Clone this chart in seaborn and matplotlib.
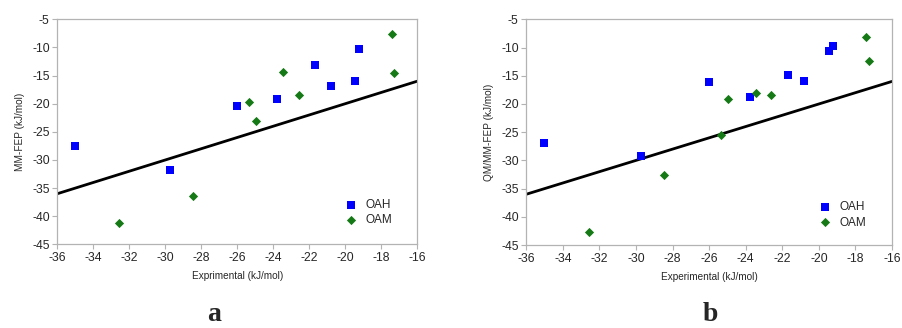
import numpy as np
import pandas as pd
import matplotlib
matplotlib.use("Agg")
import matplotlib.pyplot as plt
import seaborn as sns

# Experimental binding free energies (kJ/mol)
oah_exp = [-35.04, -29.72, -26.02, -23.78, -21.67, -20.81, -19.44, -19.22]
oam_exp = [-32.57, -28.48, -25.35, -24.98, -23.43, -22.57, -17.39, -17.28]

# Panel a: MM-FEP predictions
oah_mm = [-27.58, -31.84, -20.41, -19.10, -13.06, -16.79, -15.96, -10.27]
oam_mm = [-41.27, -36.47, -19.76, -23.07, -14.42, -18.51, -7.61, -14.48]

# Panel b: QM/MM-FEP predictions (OAM listed in its own experimental order)
oah_qm = [-26.98, -29.17, -16.17, -18.77, -14.87, -15.99, -10.61, -9.67]
oam_qm_exp = [-32.55, -28.47, -25.35, -24.99, -23.42, -22.60, -17.42, -17.28]
oam_qm = [-42.76, -32.59, -25.50, -19.06, -18.06, -18.35, -8.07, -12.39]

hosts = ["OAH", "OAM"]
x_ticks = list(range(-36, -15, 2))
y_ticks = list(range(-45, -4, 5))
panel_letters = ["a", "b"]
y_labels = ["MM-FEP (kJ/mol)", "QM/MM-FEP (kJ/mol)"]
x_labels = ["Exprimental (kJ/mol)", "Experimental (kJ/mol)"]

sns.set_theme(style="white")
plt.rcParams["font.family"] = ["Liberation Sans", "DejaVu Sans"]
plt.rcParams["axes.unicode_minus"] = False

def make_frame(ex_h, pr_h, ex_m, pr_m):
    return pd.DataFrame({
        "exp": ex_h + ex_m,
        "pred": pr_h + pr_m,
        "host": [hosts[0]] * len(ex_h) + [hosts[1]] * len(ex_m),
    })

frames = [
    make_frame(oah_exp, oah_mm, oam_exp, oam_mm),
    make_frame(oah_exp, oah_qm, oam_qm_exp, oam_qm),
]

fig = plt.figure(figsize=(9.02, 3.28), dpi=100)
axes = [
    fig.add_axes([0.0635, 0.255, 0.399, 0.686]),
    fig.add_axes([0.5835, 0.253, 0.4054, 0.688]),
]

palette = {"OAH": "#0000ff", "OAM": "#157a15"}
markers = {"OAH": "s", "OAM": "D"}
sizes = {"OAH": 28, "OAM": 22}
legend_pos = [(0.784, 0.142), (0.785, 0.134)]

for i, (ax, df) in enumerate(zip(axes, frames)):
    # identity line y = x
    diag = np.array([x_ticks[0], x_ticks[-1]], dtype=float)
    sns.lineplot(x=diag, y=diag, ax=ax, color="black", linewidth=2.0, zorder=2)
    for h in hosts:
        sub = df[df["host"] == h]
        sns.scatterplot(data=sub, x="exp", y="pred", ax=ax, color=palette[h],
                        marker=markers[h], s=sizes[h], linewidth=0,
                        label=h, zorder=3)
    ax.set_xlim(x_ticks[0], x_ticks[-1])
    ax.set_ylim(y_ticks[0], y_ticks[-1])
    ax.set_xticks(x_ticks)
    ax.set_yticks(y_ticks)
    ax.tick_params(axis="both", which="major", direction="out", length=3.5,
                   width=0.8, color="#b3b3b3", labelsize=8.8, pad=2,
                   bottom=True, left=True)
    for sp in ax.spines.values():
        sp.set_color("#b3b3b3")
        sp.set_linewidth(0.9)
    ax.set_xlabel(x_labels[i], fontsize=7.2, labelpad=5)
    ax.set_ylabel(y_labels[i], fontsize=7.2, labelpad=5)
    ax.legend(loc="center left", bbox_to_anchor=legend_pos[i], frameon=False,
              fontsize=8.5, handletextpad=0.6, borderaxespad=0, labelspacing=0.3,
              handlelength=1.2)
    ax.grid(False)

fig.text(0.237, 0.003, panel_letters[0], family="Liberation Serif",
         fontweight="bold", fontsize=20, ha="center", va="bottom")
fig.text(0.788, 0.003, panel_letters[1], family="Liberation Serif",
         fontweight="bold", fontsize=20, ha="center", va="bottom")

fig.savefig("out.png", dpi=100)
